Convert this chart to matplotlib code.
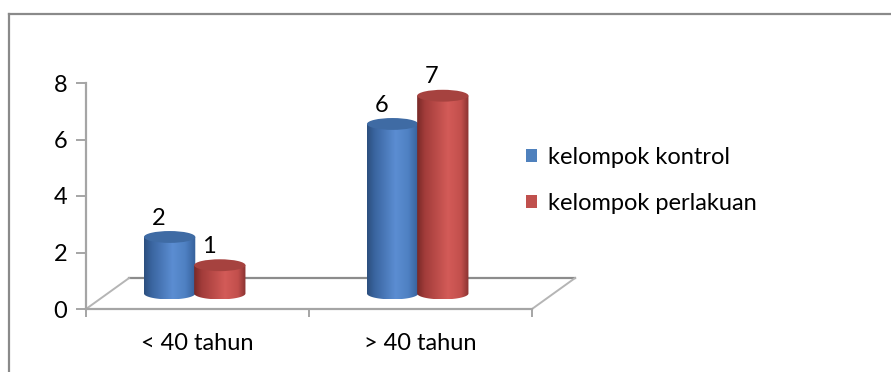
import numpy as np
import matplotlib

matplotlib.use("Agg")
import matplotlib.pyplot as plt
from matplotlib.colors import LinearSegmentedColormap
from matplotlib.lines import Line2D
from matplotlib.patches import Ellipse, PathPatch, Rectangle
from matplotlib.path import Path

categories = ["< 40 tahun", "> 40 tahun"]
series_names = ["kelompok kontrol", "kelompok perlakuan"]
kontrol = [2, 6]
perlakuan = [1, 7]
y_ticks = [0, 2, 4, 6, 8]

plt.rcParams["font.family"] = ["Lato", "DejaVu Sans"]
FS = 17

W, H = 891, 372
fig = plt.figure(figsize=(W / 100, H / 100), dpi=100)

# plot area (front plane of the floor): x 86..532 px, y 309..83 px
ax = fig.add_axes([86 / W, 1 - 309 / H, (532 - 86) / W, (309 - 83) / H])
ax.set_xlim(-0.5, 1.5)
ax.set_ylim(0, 8)
ax.patch.set_visible(False)

grey = "#a5a5a5"
for side in ("top", "right"):
    ax.spines[side].set_visible(False)
for side in ("left", "bottom"):
    ax.spines[side].set_color(grey)
    ax.spines[side].set_linewidth(1.6)

ax.set_yticks(y_ticks)
ax.tick_params(axis="y", length=7.5, width=1.4, color=grey, pad=6, labelsize=FS)
ax.set_xticks([0, 1], categories)
ax.tick_params(axis="x", which="major", length=0, pad=17, labelsize=FS)
ax.set_xticks([-0.5, 0.5, 1.5], minor=True)
ax.tick_params(axis="x", which="minor", length=6, width=1.4, color=grey)

# 3D floor: back edge is the front edge pushed back by (depth_dx, depth_dy)
depth_dx, depth_dy = 0.193, 1.095
ax.plot([-0.5 + depth_dx, 1.5 + depth_dx], [depth_dy, depth_dy],
        color="#8c8c8c", lw=1.6, clip_on=False, zorder=1)
for x in (-0.5, 1.5):
    ax.plot([x, x + depth_dx], [0, depth_dy], color="#b5b5b5", lw=1.4,
            clip_on=False, zorder=1)

blue_cmap = LinearSegmentedColormap.from_list(
    "blue_cyl", [(0, "#2c4f7e"), (0.15, "#3a65a0"), (0.55, "#5b8dd2"),
                 (0.8, "#4e80c2"), (1, "#355f99")])
red_cmap = LinearSegmentedColormap.from_list(
    "red_cyl", [(0, "#782927"), (0.15, "#a23c3a"), (0.6, "#d35b58"),
                (0.85, "#c24f4c"), (1, "#883230")])

lift = 0.55          # cylinders stand in the middle of the floor depth
cyl_width = 0.23
cap_ry = 0.21        # half height of the elliptical caps, in value units
offsets = [-0.125, 0.10]
gradient = np.linspace(0, 1, 256)[None, :]


def draw_cylinder(cx, value, cmap, cap_color, z):
    x0, x1 = cx - cyl_width / 2, cx + cyl_width / 2
    base, top = lift, lift + value
    t = np.linspace(np.pi, 2 * np.pi, 60)
    arc = np.column_stack([cx + cyl_width / 2 * np.cos(t), base + cap_ry * np.sin(t)])
    verts = np.vstack([[x0, top], arc, [x1, top], [x0, top]])
    codes = [Path.MOVETO] + [Path.LINETO] * (len(verts) - 2) + [Path.CLOSEPOLY]
    body = PathPatch(Path(verts, codes), transform=ax.transData,
                     facecolor="none", edgecolor="none")
    ax.add_patch(body)
    img = ax.imshow(gradient, cmap=cmap, extent=(x0, x1, base - cap_ry, top),
                    aspect="auto", zorder=z, interpolation="bilinear")
    img.set_clip_path(body)
    ax.add_patch(Ellipse((cx, top), cyl_width, 2 * cap_ry, facecolor=cap_color,
                         edgecolor="none", zorder=z + 0.1, clip_on=False))
    ax.text(cx - 0.05, value + 1.22, f"{value}", ha="center", va="center",
            fontsize=FS, zorder=z + 0.2)


for i in range(len(categories)):
    draw_cylinder(i + offsets[0], kontrol[i], blue_cmap, "#3f6ba4", 3 + i)
    draw_cylinder(i + offsets[1], perlakuan[i], red_cmap, "#a6423f", 3.5 + i)

ax.set_xlim(-0.5, 1.5)
ax.set_ylim(0, 8)

handles = [Rectangle((0, 0), 1, 1, facecolor="#4f81bd"),
           Rectangle((0, 0), 1, 1, facecolor="#c0504d")]
fig.legend(handles, series_names, loc="upper left",
           bbox_to_anchor=(526 / W, 1 - 147 / H), frameon=False, fontsize=FS,
           handlelength=0.45, handleheight=0.45, handletextpad=0.5,
           labelspacing=1.06, borderpad=0, borderaxespad=0)

# chart area border
fig.add_artist(Line2D([9 / W, 1.01], [1 - 13.5 / H] * 2, color="#8a8a8a", lw=1.6))
fig.add_artist(Line2D([9 / W] * 2, [-0.01, 1 - 13.5 / H], color="#8a8a8a", lw=1.6))

fig.savefig("out.png", dpi=100)
